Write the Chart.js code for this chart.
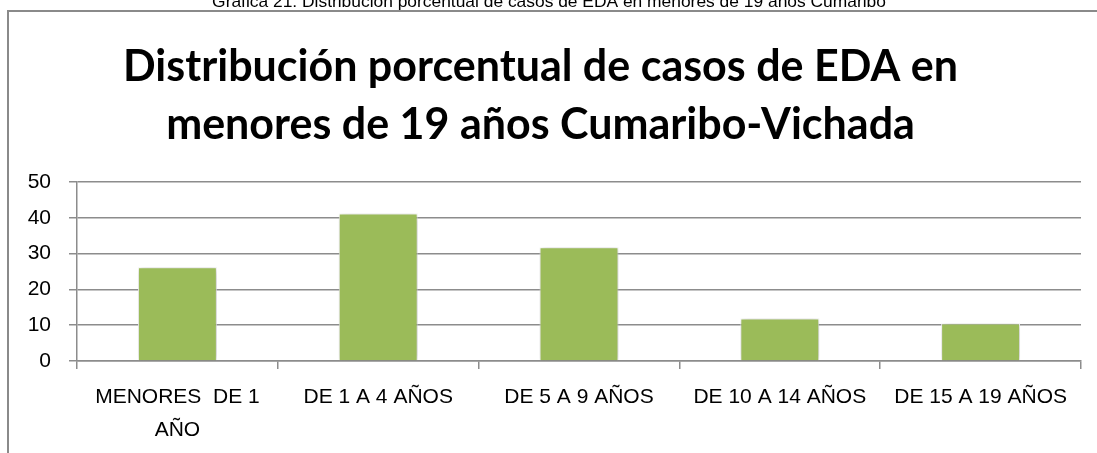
<!DOCTYPE html>
<html>
<head>
<meta charset="utf-8">
<script src="https://cdn.jsdelivr.net/npm/chart.js@4.4.1/dist/chart.umd.min.js"></script>
<style>
  html, body { margin: 0; padding: 0; background: #ffffff; }
  #wrap { position: relative; width: 1097px; height: 453px; overflow: hidden; }
</style>
</head>
<body>
<div id="wrap"><canvas id="c"></canvas></div>
<script>
const caption = "Gráfica 21: Distribución porcentual de casos de EDA en menores de 19 años Cumaribo";
const titleLines = ["Distribución porcentual de casos de EDA en", "menores de 19 años Cumaribo-Vichada"];
const categories = [["MENORES  DE 1", "AÑO"], "DE 1 A 4 AÑOS", "DE 5 A 9 AÑOS", "DE 10 A 14 AÑOS", "DE 15 A 19 AÑOS"];
const values = [26.2, 41.2, 31.8, 11.9, 10.5];
const yTicks = [0, 10, 20, 30, 40, 50];

const GRID = '#8c8c8c';
const TICK_FONT = { family: "'Liberation Sans', Arial, sans-serif", size: 21, lineHeight: 1.6 };

const framePlugin = {
  id: 'frame',
  beforeDraw(chart) {
    const ctx = chart.ctx;
    ctx.save();
    ctx.fillStyle = '#ffffff';
    ctx.fillRect(0, 0, chart.width, chart.height);
    ctx.strokeStyle = '#8a8a8a';
    ctx.lineWidth = 2;
    ctx.beginPath();
    ctx.moveTo(8, chart.height);
    ctx.lineTo(8, 11);
    ctx.lineTo(chart.width, 11);
    ctx.stroke();
    ctx.fillStyle = '#000000';
    ctx.font = "17.4px 'Liberation Sans', Arial, sans-serif";
    ctx.textAlign = 'center';
    ctx.textBaseline = 'alphabetic';
    ctx.fillText(caption, 549, 7);
    ctx.restore();
  }
};

const shadowPlugin = {
  id: 'barShadow',
  beforeDatasetsDraw(chart) {
    const ctx = chart.ctx;
    ctx.save();
    ctx.shadowColor = 'rgba(0,0,0,0.3)';
    ctx.shadowBlur = 7;
    ctx.shadowOffsetX = 1;
    ctx.shadowOffsetY = 1;
  },
  afterDatasetsDraw(chart) {
    chart.ctx.restore();
  }
};

new Chart(document.getElementById('c'), {
  type: 'bar',
  data: {
    labels: categories,
    datasets: [{
      data: values,
      backgroundColor: '#9BBB59',
      borderColor: 'rgba(255,255,255,0.95)',
      borderWidth: 1,
      borderSkipped: 'bottom',
      categoryPercentage: 1,
      barPercentage: 0.393
    }]
  },
  options: {
    responsive: true,
    maintainAspectRatio: false,
    animation: false,
    layout: { padding: { left: 0, right: 16, top: 0, bottom: 0 } },
    plugins: {
      legend: { display: false },
      tooltip: { enabled: false },
      title: {
        display: true,
        text: titleLines,
        color: '#000000',
        font: { family: "Lato, 'Open Sans', sans-serif", size: 43, weight: 'bold', lineHeight: 1.35 },
        padding: { top: 38, bottom: 28 }
      }
    },
    scales: {
      x: {
        grid: { display: true, offset: true, drawOnChartArea: false, drawTicks: true, tickLength: 8, color: GRID, lineWidth: 1.5 },
        border: { display: true, color: GRID, width: 1.5 },
        ticks: { color: '#000000', font: TICK_FONT, padding: 11, maxRotation: 0, autoSkip: false },
        afterFit(scale) { scale.height = 92; }
      },
      y: {
        min: 0,
        max: 50,
        afterBuildTicks(scale) { scale.ticks = yTicks.map(v => ({ value: v })); },
        grid: { color: GRID, lineWidth: 1.5, tickLength: 8, drawTicks: true },
        border: { display: true, color: GRID, width: 1.5 },
        ticks: { color: '#000000', font: { family: TICK_FONT.family, size: 21 }, padding: 18 },
        afterFit(scale) { scale.width = 77; }
      }
    }
  },
  plugins: [framePlugin, shadowPlugin]
});
</script>
</body>
</html>
